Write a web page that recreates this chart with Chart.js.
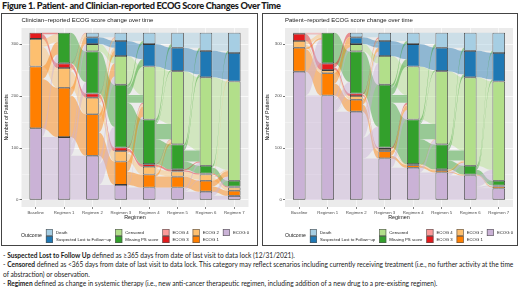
<!DOCTYPE html>
<html>
<head>
<meta charset="utf-8">
<script src="https://cdn.jsdelivr.net/npm/chart.js@4.4.1/dist/chart.umd.min.js"></script>
<style>
  html, body { margin: 0; padding: 0; background: #fff; }
  body { position: relative; width: 520px; height: 289px; overflow: hidden; font-family: Lato, "Open Sans", sans-serif; color: #1a1a1a; }
  #title { position: absolute; left: 2px; top: 0px; font-weight: 900; font-size: 9.2px; letter-spacing: -0.3px; white-space: nowrap; }
  .panel { position: absolute; top: 13px; height: 231px; border: 1px solid #444; }
  .panel canvas { display: block; }
  #notes { position: absolute; left: 3px; top: 251px; font-size: 6.6px; line-height: 9.4px; white-space: nowrap; }
</style>
</head>
<body>
<div id="title">Figure 1. Patient- and Clinician-reported ECOG Score Changes Over Time</div>
<div class="panel" id="p1" style="left:1px;width:255px;"><canvas id="clinChart" width="255" height="231"></canvas></div>
<div class="panel" id="p2" style="left:262px;width:254px;"><canvas id="patChart" width="254" height="231"></canvas></div>
<div id="notes">
  <div>- <b>Suspected Lost to Follow Up</b> defined as ≥365 days from date of last visit to data lock (12/31/2021).</div>
  <div>- <b>Censored</b> defined as &lt;365 days from date of last visit to data lock. This category may reflect scenarios including currently receiving treatment (i.e., no further activity at the time</div>
  <div>of abstraction) or observation.</div>
  <div>- <b>Regimen</b> defined as change in systemic therapy (i.e., new anti-cancer therapeutic regimen, including addition of a new drug to a pre-existing regimen).</div>
</div>
<script>
// x categories
const stages = ["Baseline", "Regimen 1", "Regimen 2", "Regimen 3", "Regimen 4", "Regimen 5", "Regimen 6", "Regimen 7"];
const yTicks = [0, 100, 200, 300];

// stacking order, bottom to top
const outcomes = ["ECOG 0", "ECOG 1", "ECOG 2", "ECOG 3", "ECOG 4", "Missing PS score", "Censored", "Suspected Lost to Follow\u2212up", "Death"];
const outcomeColors = ["#CAB2D6", "#FF7F00", "#FDBF6F", "#E31A1C", "#FB9A99", "#33A02C", "#B2DF8A", "#1F78B4", "#A6CEE3"];

// clinician-reported
const clinEcog0 = [138, 121, 85, 29, 24, 24, 16, 8];
const clinEcog1 = [119, 95, 80, 45, 25, 21, 21, 10];
const clinEcog2 = [53, 38, 32, 20, 15, 10, 12, 6];
const clinEcog3 = [12, 9, 8, 7, 5, 4, 2, 2];
const clinEcog4 = [0, 0, 0, 0, 0, 0, 0, 0];
const clinMissing = [0, 59, 81, 121, 86, 48, 15, 11];

// patient-reported
const patEcog0 = [247, 201, 170, 80, 62, 53, 47, 22];
const patEcog1 = [46, 43, 23, 14, 5, 4, 2, 4];
const patEcog2 = [13, 6, 7, 4, 2, 2, 0, 0];
const patEcog3 = [14, 13, 5, 3, 0, 0, 0, 2];
const patEcog4 = [2, 0, 0, 0, 0, 0, 0, 0];
const patMissing = [0, 59, 81, 121, 86, 48, 17, 9];

// same in both panels
const censored = [0, 0, 14, 55, 102, 141, 170, 191];
const lostFollowUp = [0, 0, 13, 29, 43, 45, 51, 55];
const death = [0, 0, 9, 16, 22, 29, 35, 39];

const clinSeries = [clinEcog0, clinEcog1, clinEcog2, clinEcog3, clinEcog4, clinMissing, censored, lostFollowUp, death];
const patSeries = [patEcog0, patEcog1, patEcog2, patEcog3, patEcog4, patMissing, censored, lostFollowUp, death];

const AXIS_FONT = "'Liberation Sans', Arial, sans-serif";

function hexA(hex, a) {
    const n = parseInt(hex.slice(1), 16);
    return `rgba(${n >> 16},${(n >> 8) & 255},${n & 255},${a})`;
}

// split each stage-to-stage move into ribbons: same outcome first, rest in order
function buildFlows(series, t) {
    const s = series.map(a => a[t]);
    const r = series.map(a => a[t + 1]);
    const flows = [];
    for (let k = 0; k < s.length; k++) {
        const f = Math.min(s[k], r[k]);
        if (f > 0) { flows.push([k, k, f]); s[k] -= f; r[k] -= f; }
    }
    let i = 0, j = 0;
    while (i < s.length && j < r.length) {
        if (s[i] <= 0) { i++; continue; }
        if (r[j] <= 0) { j++; continue; }
        const f = Math.min(s[i], r[j]);
        flows.push([i, j, f]);
        s[i] -= f; r[j] -= f;
    }
    return flows;
}

const alluvium = {
    id: "alluvium",
    beforeDatasetsDraw(chart, args, opts) {
        const { ctx } = chart;
        const y = chart.scales.y;
        const series = opts.series;
        const meta = chart.getDatasetMeta(0);
        ctx.save();
        for (let t = 0; t < stages.length - 1; t++) {
            const b0 = meta.data[t], b1 = meta.data[t + 1];
            const x0 = b0.x + b0.width / 2, x1 = b1.x - b1.width / 2;
            const xm = (x0 + x1) / 2;
            const flows = buildFlows(series, t);
            // bottoms of each stratum
            const base0 = [], base1 = [];
            let a0 = 0, a1 = 0;
            series.forEach((arr, k) => { base0[k] = a0; a0 += arr[t]; base1[k] = a1; a1 += arr[t + 1]; });
            const out = flows.slice().sort((p, q) => p[0] - q[0] || p[1] - q[1]);
            const inn = flows.slice().sort((p, q) => p[1] - q[1] || p[0] - q[0]);
            const srcOff = new Map(), tgtOff = new Map();
            out.forEach(f => { srcOff.set(f, base0[f[0]]); base0[f[0]] += f[2]; });
            inn.forEach(f => { tgtOff.set(f, base1[f[1]]); base1[f[1]] += f[2]; });
            flows.forEach(f => {
                const s0 = srcOff.get(f), s1 = tgtOff.get(f);
                const ya = y.getPixelForValue(s0), yb = y.getPixelForValue(s0 + f[2]);
                const yc = y.getPixelForValue(s1), yd = y.getPixelForValue(s1 + f[2]);
                ctx.beginPath();
                ctx.moveTo(x0, yb);
                ctx.bezierCurveTo(xm, yb, xm, yd, x1, yd);
                ctx.lineTo(x1, yc);
                ctx.bezierCurveTo(xm, yc, xm, ya, x0, ya);
                ctx.closePath();
                ctx.fillStyle = hexA(outcomeColors[f[0]], 0.45);
                ctx.fill();
            });
        }
        ctx.restore();
    }
};

const panelText = {
    id: "panelText",
    beforeDraw(chart) {
        const { ctx, chartArea } = chart;
        ctx.save();
        ctx.fillStyle = "#EBEBEB";
        ctx.fillRect(chartArea.left, chartArea.top, chartArea.width, chartArea.height);
        ctx.restore();
    },
    afterDraw(chart, args, opts) {
        const { ctx, chartArea } = chart;
        ctx.save();
        ctx.fillStyle = "#1a1a1a";
        ctx.textBaseline = "middle";
        ctx.font = `6px ${AXIS_FONT}`;
        ctx.fillText(opts.subtitle, chartArea.left, 6);

        // legend, 2 rows x 5 columns, centred under the panel
        const cols = [[8, 7], [6, 5], [4, 3], [2, 1], [0]];
        const key = 7, top = opts.legendTop;
        ctx.font = `4.3px ${AXIS_FONT}`;
        const widths = cols.map(c => key + 3 + Math.max(...c.map(k => ctx.measureText(outcomes[k]).width)));
        ctx.font = `5.2px ${AXIS_FONT}`;
        const titleW = ctx.measureText("Outcome").width + 4;
        const total = titleW + widths.reduce((a, b) => a + b, 0) + 4 * (cols.length - 1);
        let x = (chartArea.left + chartArea.right) / 2 - total / 2;
        ctx.fillText("Outcome", x, top + key);
        x += titleW;
        ctx.font = `4.3px ${AXIS_FONT}`;
        cols.forEach((c, ci) => {
            c.forEach((k, ri) => {
                const yy = top + ri * key;
                ctx.fillStyle = outcomeColors[k];
                ctx.fillRect(x, yy, key, key);
                ctx.strokeStyle = "#555";
                ctx.lineWidth = 0.6;
                ctx.strokeRect(x + 0.3, yy + 0.3, key - 0.6, key - 0.6);
                ctx.fillStyle = "#1a1a1a";
                ctx.fillText(outcomes[k], x + key + 3, yy + key / 2);
            });
            x += widths[ci] + 4;
        });
        ctx.restore();
    }
};

function makeChart(canvasId, series, subtitle, areaLeft, padRight) {
    new Chart(document.getElementById(canvasId), {
        type: "bar",
        plugins: [alluvium, panelText],
        data: {
            labels: stages,
            datasets: series.map((arr, k) => ({
                label: outcomes[k],
                data: arr.map(v => v || null),
                backgroundColor: outcomeColors[k],
                borderColor: "#3a3a3a",
                borderWidth: 0.8,
                borderSkipped: false,
                barPercentage: 0.44,
                categoryPercentage: 1
            }))
        },
        options: {
            responsive: false,
            animation: false,
            layout: { padding: { top: 14, right: padRight, bottom: 24, left: 0 } },
            plugins: {
                legend: { display: false },
                tooltip: { enabled: false },
                alluvium: { series },
                panelText: { subtitle, legendTop: 215 }
            },
            scales: {
                x: {
                    stacked: true,
                    afterFit: s => { s.height = 14; },
                    grid: { color: "#fff", lineWidth: 0.6, offset: false, tickColor: "#333", tickLength: 2 },
                    border: { display: false },
                    ticks: { color: "#4D4D4D", font: { family: AXIS_FONT, size: 4.3 }, padding: 1, maxRotation: 0 },
                    title: { display: true, text: "Regimen", color: "#1a1a1a", font: { family: AXIS_FONT, size: 5.4 }, padding: 0 }
                },
                y: {
                    stacked: true,
                    min: -13.5,
                    max: 331,
                    afterFit: s => { s.width = areaLeft; },
                    afterBuildTicks: s => { s.ticks = [0, 50, 100, 150, 200, 250, 300].map(v => ({ value: v })); },
                    grid: {
                        color: "#fff",
                        lineWidth: c => (c.tick && c.tick.value % 100 ? 0.35 : 0.7),
                        tickColor: c => (c.tick && c.tick.value % 100 ? "rgba(0,0,0,0)" : "#333"),
                        tickLength: 2
                    },
                    border: { display: false },
                    ticks: {
                        color: "#4D4D4D",
                        font: { family: AXIS_FONT, size: 4.3 },
                        padding: 1,
                        callback: v => (yTicks.includes(v) ? String(v) : "")
                    },
                    title: { display: true, text: "Number of Patients", color: "#1a1a1a", font: { family: AXIS_FONT, size: 5.4 }, padding: 1 }
                }
            }
        }
    });
}

makeChart("clinChart", clinSeries, "Clinician\u2212reported ECOG score change over time", 19.5, 8.5);
makeChart("patChart", patSeries, "Patient\u2212reported ECOG score change over time", 22, 4);
</script>
</body>
</html>
